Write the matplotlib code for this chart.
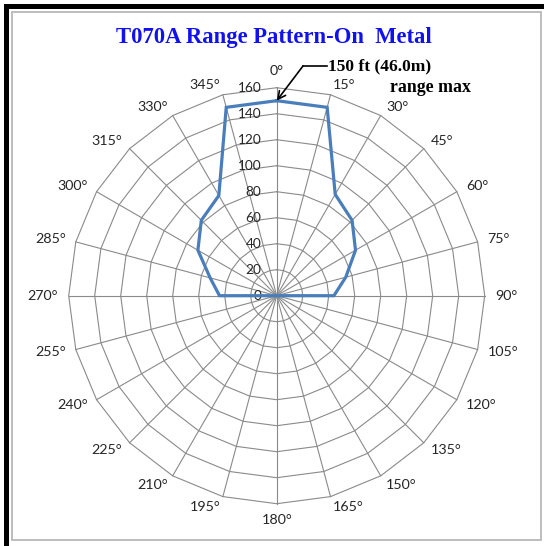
import numpy as np
import matplotlib
matplotlib.use("Agg")
import matplotlib.pyplot as plt
from matplotlib.patches import Rectangle

# --- data -------------------------------------------------------------
angles_deg = np.arange(0, 360, 15)
range_ft = [150, 150, 90, 82, 70, 55, 44,
            0, 0, 0, 0, 0, 0, 0, 0, 0, 0, 0,
            44, 53, 70, 82, 89, 150]
ring_values = [20, 40, 60, 80, 100, 120, 140, 160]
ring_labels = ["0", "20", "40", "60", "80", "100", "120", "140", "160"]
angle_labels = [f"{a}\u00b0" for a in angles_deg]

title = "T070A Range Pattern-On  Metal"
note_main = "150 ft (46.0m)"
note_sub = "range max"

# --- layout (pixels) -------------------------------------------------
W, H = 544, 546
cx, cy = 276.7, 295.7      # chart centre in pixels
px_per_unit = 1.30         # 160 ft ring -> 208 px

GRID = "#8a8a8a"
LINE = "#4A7EBB"
TXT = "#262626"


def xy(r, a_deg):
    a = np.radians(a_deg)
    return np.asarray(r) * np.sin(a), np.asarray(r) * np.cos(a)


fig = plt.figure(figsize=(W / 100, H / 100), dpi=100, facecolor="white")

# frame decorations in pixel space
deco = fig.add_axes([0, 0, 1, 1])
deco.set_xlim(0, W)
deco.set_ylim(H, 0)
deco.axis("off")
deco.add_patch(Rectangle((4, 4), W - 4, 5, color="black", lw=0))
deco.add_patch(Rectangle((4, 4), 5, H - 4, color="black", lw=0))
deco.add_patch(Rectangle((11.5, 11.5), 529, 528.5, fill=False,
                         edgecolor="#b8b8b8", lw=1.3))

# radar axes in data units
ax = fig.add_axes([0, 0, 1, 1])
ax.set_xlim(-cx / px_per_unit, (W - cx) / px_per_unit)
ax.set_ylim(-(H - cy) / px_per_unit, cy / px_per_unit)
ax.axis("off")
ax.patch.set_alpha(0)

rmax = ring_values[-1]
closed = np.append(angles_deg, angles_deg[0])

# polygonal rings
for r in ring_values:
    gx, gy = xy(r, closed)
    ax.plot(gx, gy, color=GRID, lw=0.8, zorder=1)

# spokes
for a in angles_deg:
    sx, sy = xy([0, rmax], a)
    ax.plot(sx, sy, color=GRID, lw=0.8, zorder=1)

# radial tick labels along the 0 deg spoke
for r, lab in zip([0] + ring_values, ring_labels):
    ax.text(-11.8, r, lab, ha="right", va="center", fontsize=9.8,
            family="Lato", color=TXT, zorder=3)

# angle labels
for a, lab in zip(angles_deg, angle_labels):
    s, c = np.sin(np.radians(a)), np.cos(np.radians(a))
    if abs(s) < 0.1:
        ha = "center"
    else:
        ha = "left" if s > 0 else "right"
    if abs(s) < 0.1:
        va = "bottom" if c > 0 else "top"
    else:
        va = "center"
    px, py = xy(rmax, a)
    off = 7.5
    ax.annotate(lab, xy=(px, py), xytext=(off * s, off * c),
                textcoords="offset points", ha=ha, va=va,
                fontsize=10.3, family="Lato", color=TXT)

# range pattern
lx, ly = xy(np.append(range_ft, range_ft[0]), closed)
ax.plot(lx, ly, color=LINE, lw=2.3, solid_joinstyle="miter", zorder=4)

# annotation
sx0 = (303 - cx) / px_per_unit
sy0 = (cy - 66) / px_per_unit
ax.annotate("", xy=(0, range_ft[0]), xytext=(sx0, sy0),
            arrowprops=dict(arrowstyle="->", color="black", lw=1.2,
                            mutation_scale=14, shrinkA=0, shrinkB=0),
            zorder=5)
ax.plot([sx0, (327 - cx) / px_per_unit], [sy0, sy0], color="black",
        lw=1.2, zorder=5)
ax.text((328 - cx) / px_per_unit, sy0, note_main, ha="left", va="center",
        fontsize=12.5, fontweight="bold", family="Liberation Serif",
        color="black")
ax.text((390 - cx) / px_per_unit, (cy - 88) / px_per_unit, note_sub,
        ha="left", va="center", fontsize=12.8, fontweight="bold",
        family="Liberation Serif", color="black")

# title
fig.text(274 / W, 1 - 38 / H, title, ha="center", va="center",
         fontsize=16.3, fontweight="bold", family="Liberation Serif",
         color="#1010f0")

fig.savefig("out.png", dpi=100, facecolor="white")
